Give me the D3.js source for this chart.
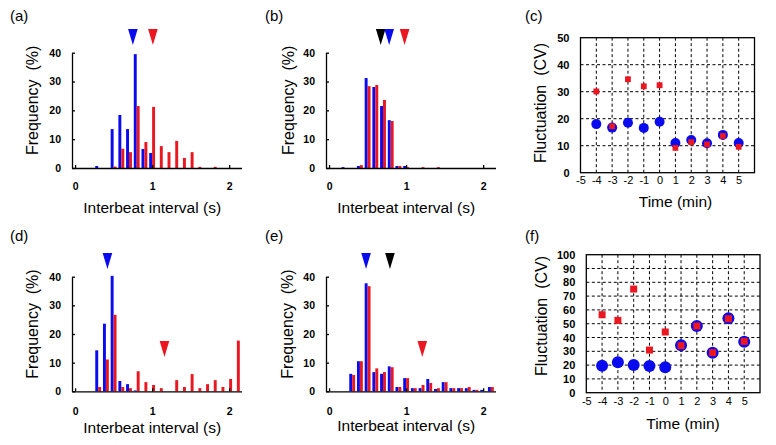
<!DOCTYPE html>
<html>
<head>
<meta charset="utf-8">
<script src="https://cdn.jsdelivr.net/npm/d3@7"></script>
<style>
  body { margin: 0; background: #fff; }
  svg { font-family: "Liberation Sans", Arial, sans-serif; }
  .lbl { white-space: pre; }
</style>
</head>
<body>
<svg id="fig" width="776" height="445"></svg>
<script>

// histogram bins (s)
var bins = [0.1, 0.2, 0.3, 0.4, 0.5, 0.6, 0.7, 0.8, 0.9, 1.0, 1.1,
	1.2, 1.3, 1.4, 1.5, 1.6, 1.7, 1.8, 1.9, 2.0, 2.1];

var blueA = [0, 0, 0.7, 0, 13.5, 18.4, 13.5, 39.5, 6.6, 5.2, 0, 0, 0, 0, 0, 0, 0, 0, 0, 0, 0];
var redA  = [0, 0, 0, 0, 0.5, 6.7, 5.5, 21.5, 9.0, 21.2, 7.6, 5.5, 9.4, 3.5, 5.5, 0.4, 0, 0.4, 0, 0, 0];

var blueB = [0, 0.3, 0, 0.7, 31.2, 28.1, 21.5, 16.6, 0.7, 0.7, 0, 0, 0, 0, 0, 0, 0, 0, 0, 0, 0];
var redB  = [0, 0, 0, 1.0, 28.4, 28.8, 23.6, 16.3, 0.7, 0.3, 0, 0.3, 0, 0.3, 0, 0, 0, 0, 0, 0, 0];

var blueD = [0, 0, 14.3, 23.6, 40.3, 3.6, 2.5, 0.3, 0, 0, 0, 0, 0, 0, 0, 0, 0, 0, 0, 0, 0];
var redD  = [0, 0, 1.5, 11.1, 26.7, 1.5, 1.1, 7.0, 3.2, 2.2, 1.1, 0, 3.9, 1.5, 6.0, 1.1, 2.5, 3.9, 1.5, 4.3, 17.7];

var blueE = [0, 0, 6.1, 10.5, 37.7, 6.7, 6.1, 8.7, 1.5, 4.6, 1.1, 1.1, 4.3, 0.8, 3.2, 1.1, 1.1, 1.1, 0.5, 0.5, 1.5];
var redE  = [0, 0, 5.7, 10.5, 36.7, 8.0, 6.7, 8.4, 1.5, 4.6, 1.1, 2.2, 2.9, 1.1, 3.2, 1.1, 1.1, 1.5, 0.5, 0, 1.5];

// mean markers: [colour, interval (s), tip height (%)]
var arrowsA = [["red", 1.01, 42.7], ["blue", 0.75, 42.7]];
var arrowsB = [["red", 0.98, 42.7], ["black", 0.67, 42.7], ["blue", 0.78, 42.7]];
var arrowsD = [["blue", 0.42, 42.7], ["red", 1.16, 12]];
var arrowsE = [["blue", 0.48, 42.7], ["black", 0.79, 42.7], ["red", 1.21, 12]];

var freqTicks = [0, 10, 20, 30, 40];
var intervalTicks = [0, 1, 2];

// fluctuation (CV) per minute
var minutes = [-4, -3, -2, -1, 0, 1, 2, 3, 4, 5];
var cvBlueC = [18.0, 16.7, 18.5, 16.6, 18.9, 11.0, 12.1, 10.9, 14.0, 11.0];
var cvRedC  = [30.1, 17.2, 34.6, 32.0, 32.4, 9.2, 11.3, 10.5, 13.6, 9.6];
var cvBlueF = [19.5, 22.0, 20.0, 19.3, 18.5, 34.3, 48.3, 29.0, 53.9, 37.0];
var cvRedF  = [56.5, 52.4, 75.1, 30.9, 44.0, 34.1, 48.3, 29.0, 53.6, 37.2];

var timeTicks = [-5, -4, -3, -2, -1, 0, 1, 2, 3, 4, 5];
var cvTicksC = [0, 10, 20, 30, 40, 50];
var cvTicksF = [0, 10, 20, 30, 40, 50, 60, 70, 80, 90, 100];

var colors = { blue: "#0a0aef", red: "#ea1620", black: "#000" };
var plain = d => String(d);

var svg = d3.select("#fig");

function panelLabel(text, x, y) {
	svg.append("text").attr("x", x).attr("y", y)
		.attr("font-size", 15).text(text);
}

function histogram(p) {
	var x = d3.scaleLinear().domain([-0.04, 2.16]).range([p.left, p.left + 169.5]);
	var y = d3.scaleLinear().domain([0, 40]).range([p.bottom, p.bottom - p.h]);
	var g = svg.append("g");

	var data = bins.map((b, i) => ({ b: b, blue: p.blue[i], red: p.red[i] }));
	var w = 0.038;

	g.selectAll(".blue").data(data.filter(d => d.blue > 0)).join("rect")
		.attr("x", d => x(d.b - w))
		.attr("width", d => x(d.b) - x(d.b - w))
		.attr("y", d => y(d.blue))
		.attr("height", d => y(0) - y(d.blue))
		.attr("fill", colors.blue);

	g.selectAll(".red").data(data.filter(d => d.red > 0)).join("rect")
		.attr("x", d => x(d.b))
		.attr("width", d => x(d.b + w) - x(d.b))
		.attr("y", d => y(d.red))
		.attr("height", d => y(0) - y(d.red))
		.attr("fill", colors.red);

	var ya = g.append("g").attr("transform", "translate(" + p.left + ",0)")
		.call(d3.axisLeft(y).tickValues(freqTicks).tickFormat(plain)
			.tickSize(-3).tickSizeOuter(0).tickPadding(11));
	var xa = g.append("g").attr("transform", "translate(0," + p.bottom + ")")
		.call(d3.axisBottom(x).tickValues(intervalTicks).tickFormat(plain)
			.tickSize(-3).tickSizeOuter(0).tickPadding(p.xpad));
	[ya, xa].forEach(a => {
		a.selectAll("path, line").attr("stroke", "#000").attr("stroke-width", 1.3);
		a.selectAll("text").attr("font-size", 10.5).attr("font-weight", "bold")
			.attr("font-family", "Liberation Sans, Arial, sans-serif").attr("fill", "#000");
	});

	g.selectAll(".arrow").data(p.arrows).join("path")
		.attr("d", d => {
			var cx = x(d[1]), ty = y(d[2]);
			return "M" + (cx - 4.8) + "," + (ty - 16) + "L" + (cx + 4.8) + "," + (ty - 16) + "L" + cx + "," + ty + "Z";
		})
		.attr("fill", d => colors[d[0]]);

	g.append("text").attr("class", "lbl")
		.attr("transform", "translate(" + p.ylx + "," + (p.bottom - p.h / 2 - 10) + ") rotate(-90)")
		.attr("text-anchor", "middle").attr("font-size", 16)
		.text("Frequency  (%)");
	g.append("text")
		.attr("x", x(1)).attr("y", p.xly)
		.attr("text-anchor", "middle").attr("font-size", 15.5)
		.text("Interbeat interval (s)");
}

function scatter(p) {
	var x = d3.scaleLinear().domain([-5, 6]).range([p.left, p.right]);
	var y = d3.scaleLinear().domain([0, p.max]).range([p.bottom, p.top]);
	var g = svg.append("g");

	g.selectAll(".vg").data(minutes).join("line")
		.attr("x1", d => x(d)).attr("x2", d => x(d))
		.attr("y1", p.top).attr("y2", p.bottom)
		.attr("stroke", "#000").attr("stroke-dasharray", "3,2.5");
	g.selectAll(".hg").data(p.ticks.filter(t => t > 0 && t < p.max)).join("line")
		.attr("x1", p.left).attr("x2", p.right)
		.attr("y1", d => y(d)).attr("y2", d => y(d))
		.attr("stroke", "#000").attr("stroke-dasharray", "3,2.5");

	g.append("rect").attr("x", p.left).attr("y", p.top)
		.attr("width", p.right - p.left).attr("height", p.bottom - p.top)
		.attr("fill", "none").attr("stroke", "#000").attr("stroke-width", 1.3);

	var ya = g.append("g").attr("transform", "translate(" + p.left + ",0)")
		.call(d3.axisLeft(y).tickValues(p.ticks).tickFormat(plain).tickSize(0).tickPadding(11));
	ya.select(".domain").remove();
	ya.selectAll("text").attr("font-size", 11).attr("font-weight", "bold");

	var xa = g.append("g").attr("transform", "translate(0," + p.bottom + ")")
		.call(d3.axisBottom(x).tickValues(timeTicks).tickFormat(plain).tickSize(0).tickPadding(p.xpad));
	xa.select(".domain").remove();
	xa.selectAll("text").attr("font-size", 11);
	g.selectAll(".tick text").attr("font-family", "Liberation Sans, Arial, sans-serif").attr("fill", "#000");

	g.selectAll(".dot").data(minutes).join("circle")
		.attr("cx", d => x(d)).attr("cy", (d, i) => y(p.blue[i]))
		.attr("r", p.r).attr("fill", colors.blue);
	g.selectAll(".sq").data(minutes).join("rect")
		.attr("x", d => x(d) - p.s / 2).attr("y", (d, i) => y(p.red[i]) - p.s / 2)
		.attr("width", p.s).attr("height", p.s).attr("fill", colors.red);

	g.append("text").attr("class", "lbl")
		.attr("transform", "translate(" + p.ylx + "," + p.yly + ") rotate(-90)")
		.attr("text-anchor", "middle").attr("font-size", 16)
		.text("Fluctuation  (CV)");
	g.append("text")
		.attr("x", p.xlx).attr("y", p.xly)
		.attr("text-anchor", "middle").attr("font-size", 15.5)
		.text("Time (min)");
}

histogram({ left: 72, bottom: 168, h: 115.3, blue: blueA, red: redA, arrows: arrowsA, xpad: 14.5, ylx: 37.5, xly: 213 });
histogram({ left: 326, bottom: 168, h: 115.3, blue: blueB, red: redB, arrows: arrowsB, xpad: 14.5, ylx: 294, xly: 213 });
histogram({ left: 72, bottom: 391.3, h: 114.6, blue: blueD, red: redD, arrows: arrowsD, xpad: 16, ylx: 37.5, xly: 433 });
histogram({ left: 326, bottom: 391.3, h: 114.6, blue: blueE, red: redE, arrows: arrowsE, xpad: 16, ylx: 293, xly: 431 });

scatter({ left: 580.5, right: 754.5, top: 37.7, bottom: 172.7, max: 50, ticks: cvTicksC,
	blue: cvBlueC, red: cvRedC, r: 5, s: 5.8, xpad: 3.5, ylx: 546, yly: 103, xlx: 675.5, xly: 207 });
scatter({ left: 586.3, right: 760, top: 254.7, bottom: 392.7, max: 100, ticks: cvTicksF,
	blue: cvBlueF, red: cvRedF, r: 6, s: 7, xpad: 5, ylx: 547, yly: 316, xlx: 683, xly: 428.5 });

panelLabel("(a)", 10, 21);
panelLabel("(b)", 265, 21);
panelLabel("(c)", 525, 21);
panelLabel("(d)", 10, 241);
panelLabel("(e)", 265, 241);
panelLabel("(f)", 525, 241);

</script>
</body>
</html>
